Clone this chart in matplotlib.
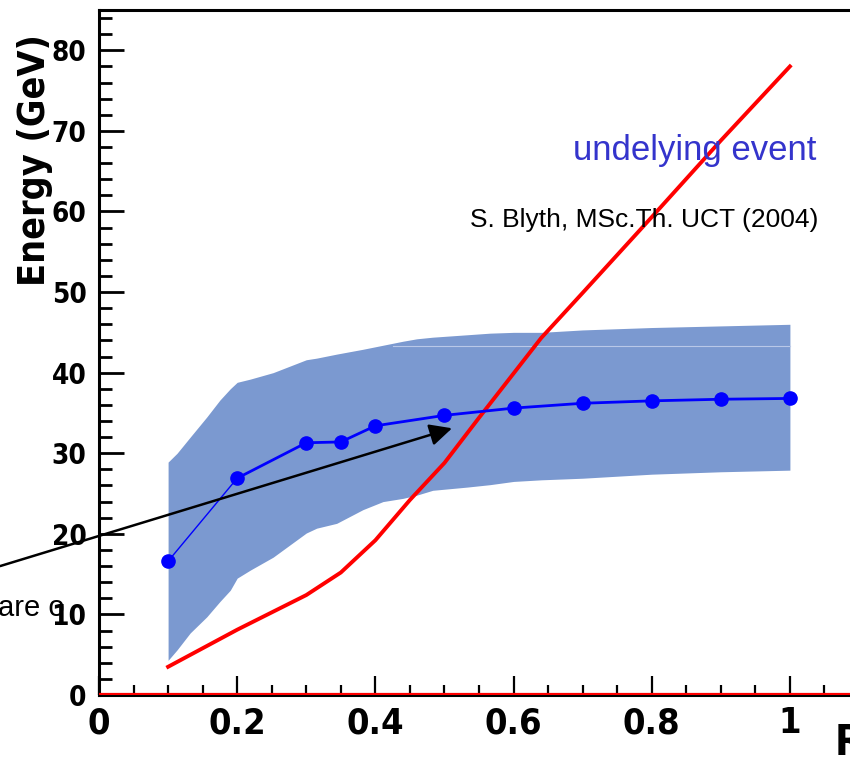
import numpy as np
import matplotlib.pyplot as plt
from matplotlib.ticker import MultipleLocator

# mean energy in the cone (blue points)
mean_x = [0.1, 0.2, 0.3, 0.35, 0.4, 0.5, 0.6, 0.7, 0.8, 0.9, 1.0]
mean_y = [16.6, 26.9, 31.3, 31.4, 33.4, 34.7, 35.6, 36.2, 36.5, 36.7, 36.8]

# spread band around the mean
band_x = [0.1, 0.113, 0.132, 0.156, 0.175, 0.19, 0.2, 0.219, 0.252, 0.276,
          0.3, 0.315, 0.344, 0.382, 0.411, 0.44, 0.46, 0.483, 0.533, 0.566,
          0.6, 0.64, 0.7, 0.8, 0.9, 1.0]
band_lo = [4.3, 5.6, 7.7, 9.7, 11.6, 13.0, 14.5, 15.5, 17.1, 18.6,
           20.1, 20.7, 21.3, 23.0, 24.0, 24.4, 24.8, 25.4, 25.8, 26.1,
           26.5, 26.7, 26.9, 27.4, 27.7, 27.9]
band_hi = [28.9, 30.0, 32.0, 34.5, 36.6, 38.0, 38.8, 39.2, 40.0, 40.8,
           41.6, 41.8, 42.3, 42.9, 43.4, 43.9, 44.2, 44.4, 44.7, 44.9,
           45.0, 45.0, 45.3, 45.6, 45.8, 46.0]
seam_x = [0.425, 1.0]
seam_y = [43.3, 43.3]

# underlying event (red)
red_x = [0.1, 0.2, 0.3, 0.35, 0.4, 0.45, 0.5, 0.55, 0.6, 0.64, 0.7, 0.8, 0.9, 1.0]
red_y = [3.5, 8.1, 12.4, 15.2, 19.2, 24.2, 28.8, 34.4, 39.9, 44.3, 49.9, 59.3, 68.8, 78.0]

arrow_tail = (-0.143, 16.0)
arrow_head = (0.511, 33.1)

plain = ['Liberation Sans', 'DejaVu Sans']
bold_font = dict(family='DejaVu Sans', fontstretch='condensed', fontweight='bold')

fig = plt.figure(figsize=(8.5, 7.59), dpi=100)
ax = fig.add_axes([99 / 850, 1 - 695 / 759, 760 / 850, 685 / 759])
ax.set_xlim(0, 1.1)
ax.set_ylim(0, 85)

ax.fill_between(band_x, band_lo, band_hi, color='#7b99d0', lw=0, zorder=1)
ax.plot(seam_x, seam_y, color='#b9c8e8', lw=0.8, zorder=1.2)
ax.plot(red_x, red_y, color='#ff0000', lw=2.8, zorder=2)
ax.plot(mean_x[:2], mean_y[:2], color='#0000ff', lw=1.0, zorder=3)
ax.plot(mean_x[1:], mean_y[1:], color='#0000ff', lw=2.0, zorder=3)
ax.plot(mean_x, mean_y, 'o', color='#0000ff', ms=9.5, zorder=4)
ax.axhline(0.15, color='#ff0000', lw=1.6, zorder=5)

ax.annotate('', xy=arrow_head, xytext=arrow_tail, annotation_clip=False,
            arrowprops=dict(arrowstyle='-|>,head_length=0.45,head_width=0.22',
                            mutation_scale=30, color='black', lw=1.8,
                            shrinkA=0, shrinkB=0), zorder=6)

for side in ['left', 'top', 'bottom']:
    ax.spines[side].set_linewidth(2.2)
ax.spines['right'].set_visible(False)

ax.xaxis.set_major_locator(MultipleLocator(0.2))
ax.xaxis.set_minor_locator(MultipleLocator(0.05))
ax.yaxis.set_major_locator(MultipleLocator(10))
ax.yaxis.set_minor_locator(MultipleLocator(2))
ax.tick_params(axis='x', which='major', direction='in', length=14, width=1.6, pad=8)
ax.tick_params(axis='x', which='minor', direction='in', length=7, width=1.6)
ax.tick_params(axis='y', which='major', direction='in', length=18, width=2.0, pad=9)
ax.tick_params(axis='y', which='minor', direction='in', length=9.5, width=2.0)
ax.tick_params(top=False, right=False, which='both')
ax.set_xticks([0, 0.2, 0.4, 0.6, 0.8, 1.0])
ax.set_xticklabels(['0', '0.2', '0.4', '0.6', '0.8', '1'], fontsize=26, **bold_font)
ax.set_yticks(np.arange(0, 90, 10))
ax.set_yticklabels([str(v) for v in range(0, 90, 10)], fontsize=20, **bold_font)
ax.set_ylim(0, 85)

ax.text(1.039, 66.4, 'undelying event', color='#3434cc', fontsize=25,
        family=plain, ha='right', va='baseline')
ax.text(1.0405, 58.1, 'S. Blyth, MSc.Th. UCT (2004)', color='black', fontsize=19,
        family=plain, ha='right', va='baseline')

fig.text(35 / 850, 1 - 160 / 759, 'Energy (GeV)', rotation=90, fontsize=27,
         ha='center', va='center', **bold_font)
fig.text(835 / 850, 1 - 755 / 759, 'R', fontsize=30, ha='left', va='baseline',
         **bold_font)
fig.text(65 / 850, 1 - 616 / 759, 'are o', family=plain, fontsize=21,
         ha='right', va='baseline', zorder=-1)

fig.savefig('out.png', dpi=100)
